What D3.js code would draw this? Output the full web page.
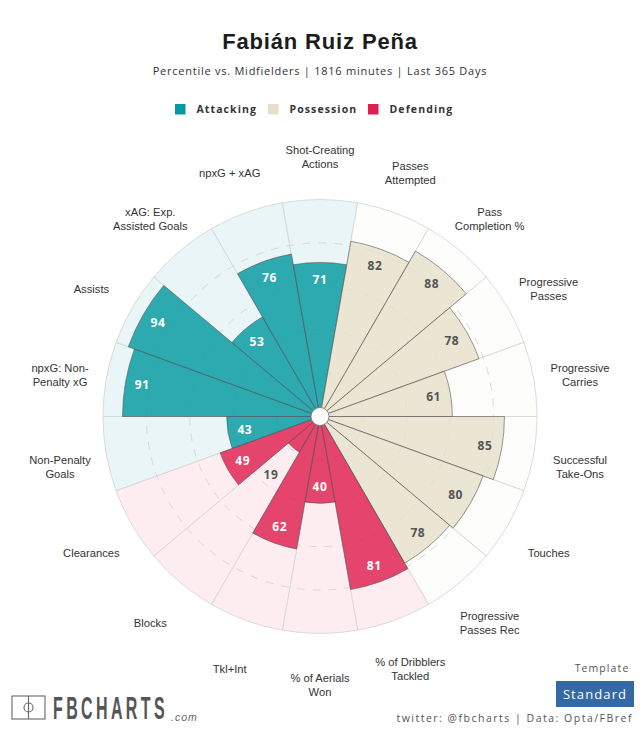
<!DOCTYPE html>
<html>
<head>
<meta charset="utf-8">
<script src="https://cdn.jsdelivr.net/npm/d3@7"></script>
<style>
    html, body { margin: 0; padding: 0; background: #fff; }
    svg { display: block; }
</style>
</head>
<body>
<div id="chart"></div>
<script>
const statLabels = [
    ['npxG: Non-', 'Penalty xG'], ['Assists'], ['xAG: Exp.', 'Assisted Goals'], ['npxG + xAG'],
    ['Shot-Creating', 'Actions'], ['Passes', 'Attempted'], ['Pass', 'Completion %'], ['Progressive', 'Passes'],
    ['Progressive', 'Carries'], ['Successful', 'Take-Ons'], ['Touches'], ['Progressive', 'Passes Rec'],
    ['% of Dribblers', 'Tackled'], ['% of Aerials', 'Won'], ['Tkl+Int'], ['Blocks'],
    ['Clearances'], ['Non-Penalty', 'Goals']
];
const percentiles = [91, 94, 53, 76, 71, 82, 88, 78, 61, 85, 80, 78, 81, 40, 62, 19, 49, 43];
const groups = ['Attacking', 'Attacking', 'Attacking', 'Attacking', 'Attacking',
    'Possession', 'Possession', 'Possession', 'Possession', 'Possession', 'Possession', 'Possession',
    'Defending', 'Defending', 'Defending', 'Defending', 'Defending', 'Attacking'];
const legendNames = ['Attacking', 'Possession', 'Defending'];
const gridValues = [20, 40, 60, 80];

const WIDTH = 640, HEIGHT = 731;
const CX = 320, CY = 416.5, R = 217;
const UI_FONT = '"Open Sans", Lato, sans-serif';
const LABEL_FONT = '"Liberation Sans", Arial, sans-serif';

const barColor = d3.scaleOrdinal().domain(legendNames).range(['#049aa0', '#e6dfcb', '#df1f4f']);
const backColor = d3.scaleOrdinal().domain(legendNames).range(['#e9f5f6', '#fdfdfb', '#fdedf1']);

const radius = d3.scaleLinear().domain([0, 100]).range([0, R]);
const angle = d3.scaleBand()
    .domain(d3.range(percentiles.length))
    .range([-Math.PI / 2, Math.PI * 1.5]);

const svg = d3.select('#chart').append('svg')
    .attr('width', WIDTH)
    .attr('height', HEIGHT)
    .attr('viewBox', `0 0 ${WIDTH} ${HEIGHT}`);

// title block
svg.append('text')
    .attr('x', CX).attr('y', 49)
    .attr('text-anchor', 'middle')
    .style('font', `bold 22px ${LABEL_FONT}`)
    .style('letter-spacing', '0.85px')
    .attr('fill', '#1c1c1c')
    .text('Fabián Ruiz Peña');

svg.append('text')
    .attr('x', CX).attr('y', 75)
    .attr('text-anchor', 'middle')
    .style('font', `11px ${UI_FONT}`)
    .style('letter-spacing', '0.75px')
    .attr('fill', '#333')
    .text('Percentile vs. Midfielders | 1816 minutes | Last 365 Days');

// legend
const legendX = d3.scaleOrdinal().domain(legendNames).range([175, 268, 368]);
const legend = svg.selectAll('.legend-item')
    .data(legendNames)
    .enter()
    .append('g')
    .attr('class', 'legend-item')
    .attr('transform', function(d){
        return `translate(${legendX(d)},104)`;
    });

legend.append('rect')
    .attr('width', 10.5).attr('height', 10.5)
    .attr('fill', function(d){ return barColor(d); });

legend.append('text')
    .attr('x', 21.5).attr('y', 9)
    .style('font', `bold 10.5px ${UI_FONT}`)
    .style('letter-spacing', '1.1px')
    .attr('fill', '#333')
    .text(function(d){ return d; });

const pizza = svg.append('g').attr('transform', `translate(${CX},${CY})`);

function sliceArc(i, value){
    return d3.arc()
        .innerRadius(0)
        .outerRadius(radius(value))
        .startAngle(angle(i))
        .endAngle(angle(i) + angle.bandwidth())();
}

// background wedges
pizza.selectAll('.back')
    .data(percentiles)
    .enter()
    .append('path')
    .attr('class', 'back')
    .attr('d', function(d, i){ return sliceArc(i, 100); })
    .attr('fill', function(d, i){ return backColor(groups[i]); })
    .attr('stroke', '#d2d4d4')
    .attr('stroke-width', 0.8);

// dashed rings
pizza.selectAll('.ring')
    .data(gridValues)
    .enter()
    .append('circle')
    .attr('class', 'ring')
    .attr('r', function(d){ return radius(d); })
    .attr('fill', 'none')
    .attr('stroke', '#cfd1d1')
    .attr('stroke-width', 0.8)
    .attr('stroke-dasharray', '8,8');

// percentile bars
pizza.selectAll('.bar')
    .data(percentiles)
    .enter()
    .append('path')
    .attr('class', 'bar')
    .attr('d', function(d, i){ return sliceArc(i, d); })
    .attr('fill', function(d, i){ return barColor(groups[i]); })
    .attr('fill-opacity', 0.82)
    .attr('stroke', '#555')
    .attr('stroke-opacity', 0.75)
    .attr('stroke-width', 0.8);

pizza.append('circle')
    .attr('r', 9)
    .attr('fill', '#fff')
    .attr('stroke', '#777')
    .attr('stroke-width', 0.8);

function midAngle(i){
    return angle(i) + angle.bandwidth() / 2;
}

// percentile numbers, small bars get theirs outside the bar
pizza.selectAll('.value')
    .data(percentiles)
    .enter()
    .append('text')
    .attr('class', 'value')
    .attr('transform', function(d, i){
        let r = d < 25 ? radius(d) + 35 : radius(d) - 17;
        return `translate(${Math.sin(midAngle(i)) * r},${-Math.cos(midAngle(i)) * r})`;
    })
    .attr('text-anchor', 'middle')
    .attr('dy', '0.36em')
    .style('font', `bold 12px ${UI_FONT}`)
    .style('letter-spacing', '0.6px')
    .attr('fill', function(d, i){
        return groups[i] === 'Possession' || d < 25 ? '#555' : '#fff';
    })
    .text(function(d){ return d; });

// stat labels around the outside
const labels = pizza.selectAll('.stat-label')
    .data(statLabels)
    .enter()
    .append('text')
    .attr('class', 'stat-label')
    .attr('transform', function(d, i){
        let r = 264;
        return `translate(${Math.sin(midAngle(i)) * r},${-Math.cos(midAngle(i)) * r + 5})`;
    })
    .attr('text-anchor', 'middle')
    .style('font', `11.2px ${LABEL_FONT}`)
    .attr('fill', '#333');

labels.selectAll('tspan')
    .data(function(d){ return d; })
    .enter()
    .append('tspan')
    .attr('x', 0)
    .attr('y', function(d, i, nodes){
        return (i - (nodes.length - 1) / 2) * 14 + 3.5;
    })
    .text(function(d){ return d; });

// logo bottom left
const logo = svg.append('g').attr('stroke', '#666').attr('fill', 'none').attr('stroke-width', 1.1);
logo.append('rect').attr('x', 12).attr('y', 696).attr('width', 33).attr('height', 23);
logo.append('line').attr('x1', 28.5).attr('x2', 28.5).attr('y1', 696).attr('y2', 719);
logo.append('circle').attr('cx', 28.5).attr('cy', 707.5).attr('r', 4.5);

// squeezed sideways, no narrow font installed
svg.append('text')
    .attr('transform', 'translate(53,718.5) scale(0.5,1)')
    .style('font', `bold 32px ${LABEL_FONT}`)
    .style('letter-spacing', '6.75px')
    .attr('fill', '#555')
    .text('FBCHARTS');

svg.append('text')
    .attr('x', 171).attr('y', 721)
    .style('font', `italic 10.5px ${LABEL_FONT}`)
    .style('letter-spacing', '1px')
    .attr('fill', '#666')
    .text('.com');

// template box bottom right
svg.append('text')
    .attr('x', 602).attr('y', 672)
    .attr('text-anchor', 'middle')
    .style('font', `10.5px ${UI_FONT}`)
    .style('letter-spacing', '1.1px')
    .attr('fill', '#555')
    .text('Template');

svg.append('rect')
    .attr('x', 556).attr('y', 681)
    .attr('width', 78).attr('height', 26)
    .attr('fill', '#3469a3');

svg.append('text')
    .attr('x', 595).attr('y', 699)
    .attr('text-anchor', 'middle')
    .style('font', `13px ${UI_FONT}`)
    .style('letter-spacing', '1.1px')
    .attr('fill', '#fff')
    .text('Standard');

svg.append('text')
    .attr('x', 633).attr('y', 722)
    .attr('text-anchor', 'end')
    .style('font', `10.5px ${UI_FONT}`)
    .style('letter-spacing', '1.5px')
    .attr('fill', '#555')
    .text('twitter: @fbcharts | Data: Opta/FBref');
</script>
</body>
</html>
